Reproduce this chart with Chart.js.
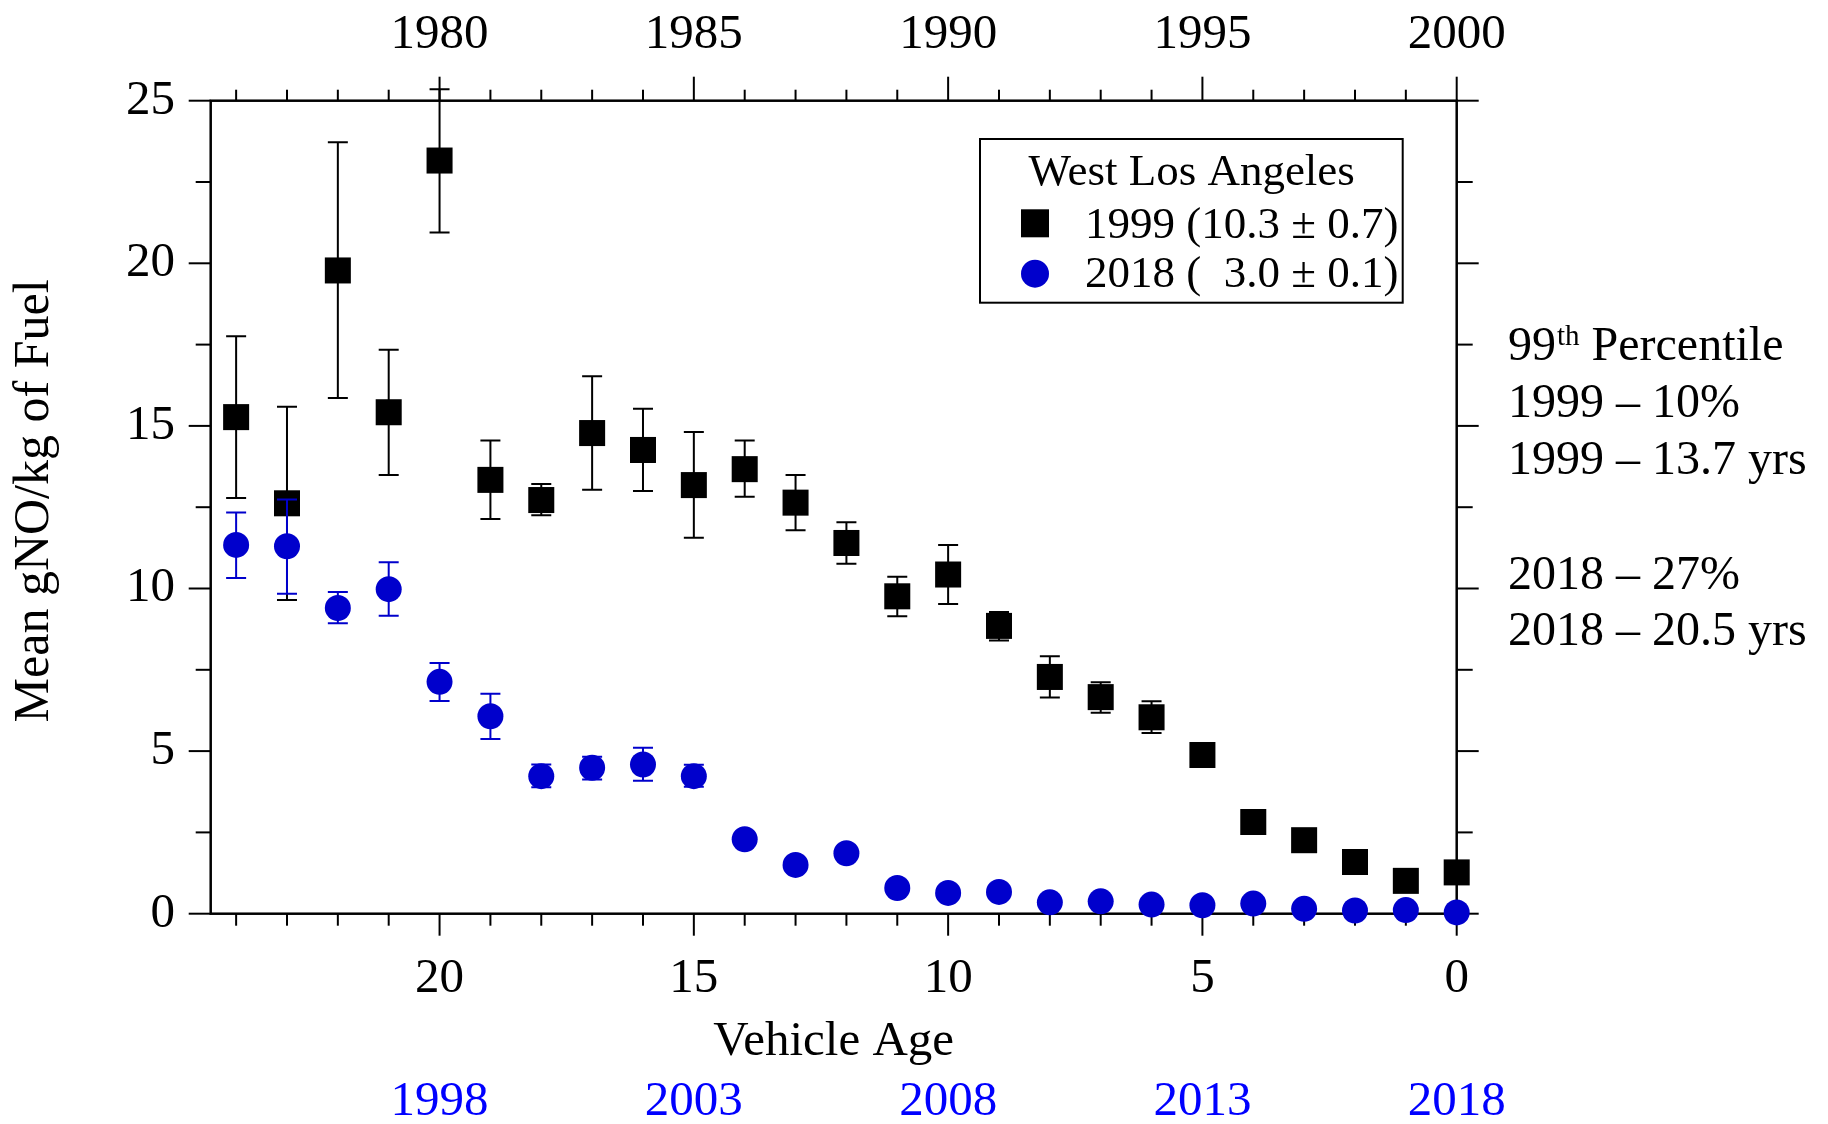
<!DOCTYPE html>
<html>
<head>
<meta charset="utf-8">
<script src="https://cdn.jsdelivr.net/npm/chart.js@4.4.1/dist/chart.umd.min.js"></script>
<style>
html,body{margin:0;padding:0;background:#ffffff;}
canvas{display:block;}
</style>
</head>
<body>
<canvas id="c" width="1828" height="1124"></canvas>
<script>
// ---------- data ----------
const ages = [24,23,22,21,20,19,18,17,16,15,14,13,12,11,10,9,8,7,6,5,4,3,2,1,0];

const nox1999   = [15.27,12.62,19.78,15.42,23.16,13.34,12.72,14.78,14.26,13.18,13.67,12.64,11.40,9.76,10.43,8.85,7.28,6.66,6.04,4.88,2.82,2.26,1.59,1.01,1.27];
const nox1999Hi = [17.76,15.59,23.72,17.34,25.35,14.55,13.21,16.53,15.53,14.81,14.55,13.49,12.04,10.36,11.34,9.28,7.92,7.12,6.53,null,null,null,null,null,null];
const nox1999Lo = [12.78,9.65,15.86,13.49,20.95,12.14,12.25,13.04,13.00,11.56,12.82,11.79,10.76,9.15,9.52,8.40,6.65,6.18,5.56,null,null,null,null,null,null];

const nox2018   = [11.34,11.30,9.40,9.98,7.13,6.07,4.23,4.49,4.59,4.23,2.29,1.50,1.86,0.79,0.64,0.67,0.35,0.38,0.28,0.26,0.31,0.15,0.10,0.11,0.04];
const nox2018Hi = [12.34,12.74,9.89,10.81,7.71,6.76,4.59,4.83,5.10,4.58,null,null,null,null,null,null,null,null,null,null,null,null,null,null,null];
const nox2018Lo = [10.32,9.84,8.93,9.16,6.54,5.37,3.89,4.13,4.09,3.90,null,null,null,null,null,null,null,null,null,null,null,null,null,null,null];

const legendTitle = 'West Los Angeles';
const legendLabels = ['1999 (10.3 \u00b1 0.7)', '2018 (', '3.0 \u00b1 0.1)'];
const noteHead = ['99', 'th', ' Percentile'];
const noteLines = ['1999 \u2013 10%', '1999 \u2013 13.7 yrs', '', '2018 \u2013 27%', '2018 \u2013 20.5 yrs'];

const xTitle = 'Vehicle Age';
const yTitle = ' Mean gNO/kg of Fuel';

// ---------- styles ----------
const FAM = "'Liberation Serif','Times New Roman',serif";
const BLACK = '#000000';
const BLUE = '#0000cc';
const BLUE_TXT = '#0000ff';

const pts = (vals) => ages.map((a, i) => ({x: a, y: vals[i]}));

const axesPlugin = {
  id: 'axesFrame',
  beforeDatasetsDraw(chart) {
    const {ctx, chartArea: a} = chart;
    const x = chart.scales.x, y = chart.scales.y;
    ctx.save();
    ctx.strokeStyle = BLACK;
    ctx.lineWidth = 2;
    const seg = (x1, y1, x2, y2) => { ctx.beginPath(); ctx.moveTo(x1, y1); ctx.lineTo(x2, y2); ctx.stroke(); };
    for (let v = 0; v <= 25.001; v += 2.5) {
      const py = y.getPixelForValue(v);
      const major = Math.abs(v % 5) < 1e-6;
      seg(a.left - (major ? 22 : 15), py, a.left, py);
      seg(a.right, py, a.right + (major ? 22 : 16), py);
    }
    for (let v = 0; v <= 24; v++) {
      const px = x.getPixelForValue(v);
      const major = v % 5 === 0;
      seg(px, a.top - (major ? 24 : 11), px, a.top);
      seg(px, a.bottom, px, a.bottom + (major ? 22 : 12));
    }
    ctx.lineWidth = 2.5;
    ctx.strokeRect(a.left, a.top, a.right - a.left, a.bottom - a.top);
    ctx.restore();
  }
};

const errPlugin = {
  id: 'errbars',
  beforeDatasetDraw(chart, args) {
    const ds = chart.data.datasets[args.index];
    if (!ds.errHi) return;
    const ctx = chart.ctx;
    const x = chart.scales.x, y = chart.scales.y;
    ctx.save();
    ctx.strokeStyle = ds.errColor;
    ctx.lineWidth = 2;
    ds.data.forEach((p, i) => {
      const hi = ds.errHi[i], lo = ds.errLo[i];
      if (hi == null || lo == null) return;
      const px = x.getPixelForValue(p.x);
      const ph = y.getPixelForValue(hi), pl = y.getPixelForValue(lo);
      ctx.beginPath();
      ctx.moveTo(px, ph); ctx.lineTo(px, pl);
      ctx.moveTo(px - 10, ph); ctx.lineTo(px + 10, ph);
      ctx.moveTo(px - 10, pl); ctx.lineTo(px + 10, pl);
      ctx.stroke();
    });
    ctx.restore();
  }
};

const notesPlugin = {
  id: 'notes',
  afterDraw(chart) {
    const ctx = chart.ctx;
    ctx.save();
    // legend box
    const bx = 980, by = 139, bw = 422.7, bh = 163.7;
    ctx.fillStyle = '#ffffff';
    ctx.fillRect(bx, by, bw, bh);
    ctx.strokeStyle = BLACK;
    ctx.lineWidth = 2;
    ctx.strokeRect(bx, by, bw, bh);
    ctx.fillStyle = BLACK;
    ctx.textBaseline = 'alphabetic';
    ctx.font = '45px ' + FAM;
    ctx.textAlign = 'center';
    ctx.fillText(legendTitle, 1191.7, 185);
    // markers
    ctx.fillRect(1035 - 14, 223.3 - 14, 28, 28);
    ctx.fillStyle = BLUE;
    ctx.beginPath(); ctx.arc(1035, 273.7, 14, 0, Math.PI * 2); ctx.fill();
    ctx.fillStyle = BLACK;
    ctx.font = '45px ' + FAM;
    ctx.textAlign = 'left';
    ctx.fillText(legendLabels[0], 1085, 237.7);
    const endX = 1085 + ctx.measureText(legendLabels[0]).width;
    ctx.fillText(legendLabels[1], 1085, 286.7);
    ctx.textAlign = 'right';
    ctx.fillText(legendLabels[2], endX, 286.7);

    // right-side notes
    ctx.textAlign = 'left';
    ctx.font = '48px ' + FAM;
    let xx = 1508;
    ctx.fillText(noteHead[0], xx, 360);
    xx += ctx.measureText(noteHead[0]).width + 1;
    ctx.font = '29px ' + FAM;
    ctx.fillText(noteHead[1], xx, 345);
    xx += ctx.measureText(noteHead[1]).width;
    ctx.font = '48px ' + FAM;
    ctx.fillText(noteHead[2], xx, 360);
    const bases = [417.3, 474, 531.6, 589.3, 645];
    noteLines.forEach((t, i) => { if (t) ctx.fillText(t, 1508, bases[i]); });
    ctx.restore();
  }
};

const tickFont = {family: FAM, size: 49};
const noGrid = {display: false, drawTicks: false, tickLength: 0};

new Chart(document.getElementById('c'), {
  type: 'scatter',
  data: {
    datasets: [
      {
        label: '1999',
        data: pts(nox1999),
        errHi: nox1999Hi, errLo: nox1999Lo, errColor: BLACK,
        pointStyle: 'rect',
        pointRadius: 18.4,
        pointHoverRadius: 18.4,
        backgroundColor: BLACK,
        borderWidth: 0,
        showLine: false,
        clip: false,
        order: 2,
        xAxisID: 'x', yAxisID: 'y'
      },
      {
        label: '2018',
        data: pts(nox2018),
        errHi: nox2018Hi, errLo: nox2018Lo, errColor: BLUE,
        pointStyle: 'circle',
        pointRadius: 13,
        pointHoverRadius: 13,
        backgroundColor: BLUE,
        borderWidth: 0,
        showLine: false,
        clip: false,
        order: 1,
        xAxisID: 'x', yAxisID: 'y'
      }
    ]
  },
  options: {
    responsive: false,
    devicePixelRatio: 1,
    animation: false,
    layout: {padding: 0},
    plugins: {legend: {display: false}, tooltip: {enabled: false}},
    scales: {
      x: {
        type: 'linear', position: 'bottom', min: 0, max: 24.5, reverse: true, weight: 0,
        grid: noGrid, border: {display: false},
        ticks: {stepSize: 5, includeBounds: false, autoSkip: false, maxRotation: 0, minRotation: 0,
                padding: 35.7, color: BLACK, font: tickFont, callback: (v) => String(v)},
        title: {display: true, text: xTitle, color: BLACK, font: tickFont, padding: {top: 0, bottom: 0}},
        afterFit: (s) => { s.height = 157.7; }
      },
      xYear: {
        type: 'linear', position: 'bottom', min: 0, max: 24.5, reverse: true, weight: 1,
        grid: noGrid, border: {display: false},
        ticks: {stepSize: 5, includeBounds: false, autoSkip: false, maxRotation: 0, minRotation: 0,
                padding: 1, color: BLUE_TXT, font: tickFont, callback: (v) => String(2018 - v)},
        afterFit: (s) => { s.height = 52.6; }
      },
      xTop: {
        type: 'linear', position: 'top', min: 0, max: 24.5, reverse: true,
        grid: noGrid, border: {display: false},
        ticks: {stepSize: 5, includeBounds: false, autoSkip: false, maxRotation: 0, minRotation: 0,
                padding: 36.6, color: BLACK, font: tickFont, callback: (v) => String(2000 - v)},
        afterFit: (s) => { s.height = 100.7; }
      },
      y: {
        type: 'linear', position: 'left', min: 0, max: 25,
        grid: noGrid, border: {display: false},
        ticks: {stepSize: 5, includeBounds: false, padding: 35.7, color: BLACK, font: tickFont, callback: (v) => String(v)},
        title: {display: true, text: yTitle, color: BLACK, font: {family: FAM, size: 50}, padding: {top: 5, bottom: 0}},
        afterFit: (s) => { s.width = 210.7; }
      },
      yRight: {
        type: 'linear', position: 'right', min: 0, max: 25,
        grid: noGrid, border: {display: false},
        ticks: {display: false},
        afterFit: (s) => { s.width = 371.3; }
      }
    }
  },
  plugins: [axesPlugin, errPlugin, notesPlugin]
});
</script>
</body>
</html>
